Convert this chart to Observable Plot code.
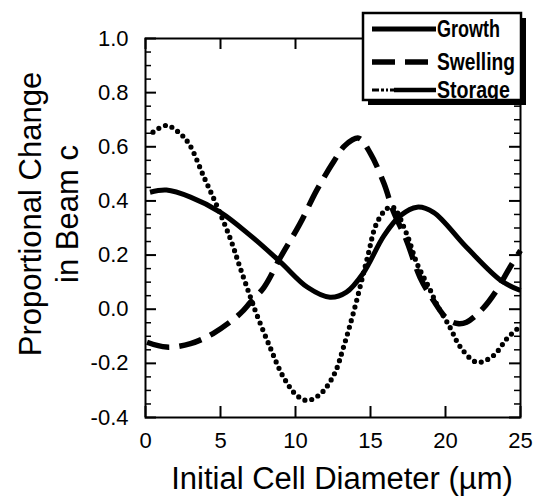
<!DOCTYPE html>
<html><head><meta charset="utf-8">
<script src="https://cdn.jsdelivr.net/npm/d3@7"></script>
<script src="https://cdn.jsdelivr.net/npm/@observablehq/plot@0.6"></script>
<style>
body{margin:0;background:#fff;}
#wrap{position:relative;width:536px;height:496px;font-family:"Liberation Sans",Arial,Helvetica,sans-serif;}
#legend{position:absolute;left:0;top:0;}
</style></head><body><div id="wrap"></div>
<script>
const seriesNames = ["Growth", "Swelling", "Storage"];

const growthX = [0.3, 1.4, 3, 5, 7, 9, 10.8, 12.3, 13.4, 14.5, 15.9, 17, 18.1, 19.2, 21.4, 23.7, 25];
const growthY = [0.432, 0.44, 0.414, 0.358, 0.272, 0.174, 0.081, 0.044, 0.063, 0.132, 0.272, 0.346, 0.377, 0.358, 0.229, 0.106, 0.069];

const swellingX = [0.1, 1.4, 3, 4.5, 6.3, 7, 7.9, 9, 10.3, 11.4, 12.6, 13.3, 14.2, 15, 15.9, 16.5, 17.4, 18.3, 19.2, 20.1, 20.8, 21.4, 22.5, 23.4, 24.3, 25];
const swellingY = [-0.122, -0.14, -0.127, -0.09, -0.017, 0.026, 0.081, 0.192, 0.316, 0.438, 0.55, 0.605, 0.632, 0.575, 0.464, 0.365, 0.254, 0.118, 0.032, -0.035, -0.053, -0.048, 0.003, 0.069, 0.155, 0.217];

const storageX = [0.5, 1.4, 2.2, 2.9, 3.9, 4.8, 5.7, 6.3, 7, 7.4, 8.3, 9.2, 10.1, 10.8, 11.7, 12.6, 13.2, 13.9, 14.8, 15.4, 16.1, 16.5, 17.4, 18.1, 19, 19.4, 20.3, 21, 22.1, 23.2, 24.1, 24.9];
const storageY = [0.654, 0.679, 0.654, 0.611, 0.488, 0.377, 0.254, 0.155, 0.044, -0.017, -0.14, -0.251, -0.319, -0.337, -0.311, -0.238, -0.14, -0.005, 0.192, 0.316, 0.372, 0.377, 0.28, 0.169, 0.069, 0.02, -0.067, -0.14, -0.196, -0.171, -0.108, -0.067];

const xTicks = [0, 5, 10, 15, 20, 25];
const yTicks = [-0.4, -0.2, 0, 0.2, 0.4, 0.6, 0.8, 1.0];
const yMinorTicks = [-0.35, -0.3, -0.25, -0.15, -0.1, -0.05, 0.05, 0.1, 0.15, 0.25, 0.3, 0.35, 0.45, 0.5, 0.55, 0.65, 0.7, 0.75, 0.85, 0.9, 0.95];
const xLabel = "Initial Cell Diameter (µm)";
const yLabel = "Proportional Change\nin Beam c";

const toRows = (name, xs, ys) => xs.map((x, i) => ({series: name, x, y: ys[i]}));
const growth = toRows(seriesNames[0], growthX, growthY);
const swelling = toRows(seriesNames[1], swellingX, swellingY);
const storage = toRows(seriesNames[2], storageX, storageY);

const W = 536, H = 496, mL = 145, mR = 16, mT = 38, mB = 79;
const fw = W - mL - mR, fh = H - mT - mB;
const major = 11, minor = 6;
const font = "'Liberation Sans', Arial, Helvetica, sans-serif";

const styles = {
  Growth: {strokeWidth: 5, strokeDasharray: null, strokeLinecap: "butt"},
  Swelling: {strokeWidth: 5.5, strokeDasharray: "23 10", strokeLinecap: "butt"},
  Storage: {strokeWidth: 5.2, strokeDasharray: "0 7", strokeLinecap: "round"}
};

const lineOpts = (name) => ({x: "x", y: "y", stroke: "black", curve: "catmull-rom", ...styles[name]});

const chart = Plot.plot({
  width: W, height: H,
  marginLeft: mL, marginRight: mR, marginTop: mT, marginBottom: mB,
  style: {fontFamily: font, fontSize: "22px", color: "black", background: "white"},
  x: {domain: [0, 25]},
  y: {domain: [-0.4, 1.0]},
  marks: [
    Plot.line(growth, lineOpts("Growth")),
    Plot.line(swelling, lineOpts("Swelling")),
    Plot.line(storage, lineOpts("Storage")),
    Plot.frame({stroke: "black", strokeWidth: 2}),
    Plot.tickY(yTicks, {y: d => d, insetRight: fw - major, strokeWidth: 2}),
    Plot.tickY(yTicks, {y: d => d, insetLeft: fw - major, strokeWidth: 2}),
    Plot.tickY(yMinorTicks, {y: d => d, insetRight: fw - minor, strokeWidth: 1.5}),
    Plot.tickY(yMinorTicks, {y: d => d, insetLeft: fw - minor, strokeWidth: 1.5}),
    Plot.tickX(xTicks, {x: d => d, insetTop: fh - major, strokeWidth: 2}),
    Plot.tickX(xTicks, {x: d => d, insetBottom: fh - major, strokeWidth: 2}),
    Plot.axisX(xTicks, {tickSize: 0, tickPadding: 15, fontSize: 22, label: null}),
    Plot.axisY(yTicks, {tickSize: 0, tickPadding: 17, fontSize: 22, label: null, tickFormat: d => d.toFixed(1)}),
    Plot.text([xLabel], {text: d => d, frameAnchor: "bottom", lineAnchor: "middle", dx: 9, dy: 62, fontSize: 31}),
    Plot.text([yLabel], {text: d => d, frameAnchor: "left", textAnchor: "middle", lineAnchor: "middle", rotate: -90, dx: -98, dy: -14, fontSize: 31, lineHeight: 1.19})
  ]
});
document.getElementById("wrap").appendChild(chart);

// Legend overlay (top-right box with drop shadow)
const leg = d3.select("#wrap").append("svg").attr("id", "legend")
  .attr("width", W).attr("height", 120).style("overflow", "visible");
const bx = 363, by = 13, bw = 158, bh = 87, sh = 5;
leg.append("rect").attr("x", bx + sh).attr("y", by + sh).attr("width", bw).attr("height", bh).attr("fill", "black");
leg.append("rect").attr("x", bx).attr("y", by).attr("width", bw).attr("height", bh)
  .attr("fill", "white").attr("stroke", "black").attr("stroke-width", 2.5);
const rowY = [29, 62, 90];
const legendTextWidth = [63, 78, 73];
seriesNames.forEach((name, i) => {
  const s = styles[name];
  const g = leg.append("g");
  if (name === "Storage") {
    g.append("line").attr("x1", 372).attr("x2", 394).attr("y1", rowY[i]).attr("y2", rowY[i])
      .attr("stroke", "black").attr("stroke-width", 3).attr("stroke-dasharray", "7 2 3 2 2 2");
    g.append("line").attr("x1", 394).attr("x2", 436).attr("y1", rowY[i]).attr("y2", rowY[i])
      .attr("stroke", "black").attr("stroke-width", 4.5);
  } else {
    g.append("line").attr("x1", 372).attr("x2", 436).attr("y1", rowY[i]).attr("y2", rowY[i])
      .attr("stroke", "black").attr("stroke-width", s.strokeWidth)
      .attr("stroke-dasharray", s.strokeDasharray);
  }
  g.append("text").attr("x", 437).attr("y", rowY[i]).attr("dy", "0.36em")
    .attr("font-family", font).attr("font-size", 23).attr("font-weight", "bold")
    .attr("textLength", legendTextWidth[i]).attr("lengthAdjust", "spacingAndGlyphs")
    .text(name);
});
</script>
</body></html>
